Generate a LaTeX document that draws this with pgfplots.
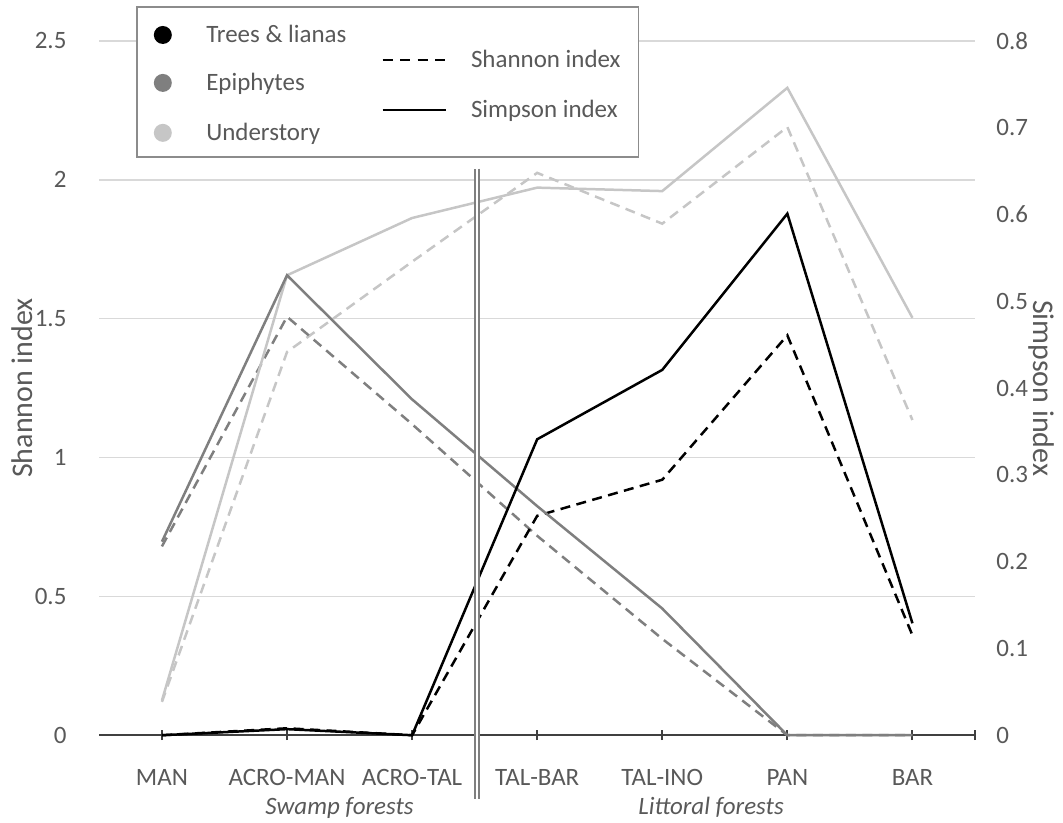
\documentclass[border=0pt]{standalone}
\usepackage{fontspec}
\setmainfont{Carlito}
\usepackage{pgfplots}
\pgfplotsset{compat=1.18}

\definecolor{txt}{HTML}{595959}
\definecolor{gridc}{HTML}{D9D9D9}
\definecolor{axc}{HTML}{404040}
\definecolor{trees}{HTML}{000000}
\definecolor{epi}{HTML}{7F7F7F}
\definecolor{under}{HTML}{C6C6C6}
\definecolor{framec}{HTML}{8C8C8C}

\pgfplotsset{
  twin/.style={
    scale only axis, width=350.6pt, height=278pt,
    xmin=-0.5, xmax=6.5, clip=false,
    /pgf/number format/assume math mode=true,
    tick label style={font=\fontsize{10}{12}\selectfont, text=txt},
    label style={font=\fontsize{12}{14}\selectfont, text=txt},
  },
  shannon/.style={line width=1pt, dash pattern=on 4pt off 2.6pt},
  simpson/.style={line width=1pt},
}

\begin{document}
\begin{tikzpicture}[font=\fontsize{10}{12}\selectfont]

% Shannon index (left axis, dashed)
\begin{axis}[twin,
  ymin=0, ymax=2.5, ytick={0,0.5,1,1.5,2,2.5},
  ymajorgrids, grid style={gridc, line width=0.6pt},
  axis x line*=bottom, axis y line*=left,
  x axis line style={axc, line width=0.8pt, -},
  y axis line style={draw=none},
  xtick={0,1,2,3,4,5,6},
  xticklabels={MAN,ACRO-MAN,ACRO-TAL,TAL-BAR,TAL-INO,PAN,BAR},
  extra x ticks={6.5}, extra x tick labels={},
  tick align=center, major tick length=4pt,
  xtick style={axc, line width=0.8pt},
  ytick style={draw=none},
  xticklabel style={anchor=base, inner sep=0pt, yshift=-18pt},
  yticklabel style={inner sep=0pt, xshift=-11pt},
  ylabel={Shannon index},
  ylabel style={at={(axis description cs:-0.0884,0.5)}, anchor=center},
]
\addplot[shannon, under] coordinates {(0,0.12) (1,1.38) (2,1.705) (3,2.025) (4,1.842) (5,2.19) (6,1.135)};
\addplot[shannon, epi]   coordinates {(0,0.68) (1,1.507) (2,1.12) (3,0.718) (4,0.347) (5,0) (6,0)};
\addplot[shannon, trees] coordinates {(0,0) (1,0.025) (2,0) (3,0.79) (4,0.92) (5,1.44) (6,0.36)};
\coordinate (axbl) at (rel axis cs:0,0);
\coordinate (axtr) at (rel axis cs:1,1);
\coordinate (axtl) at (rel axis cs:0,1);
\coordinate (sepTop) at (axis cs:2.516,2.04);
\coordinate (sepBot) at (axis cs:2.516,0);
\coordinate (grpA) at (axis cs:1.42,0);
\coordinate (grpB) at (axis cs:4.39,0);
\end{axis}

% Simpson index (right axis, solid)
\begin{axis}[twin,
  ymin=0, ymax=0.8, ytick={0,0.1,0.2,0.3,0.4,0.5,0.6,0.7,0.8},
  axis y line*=right, axis x line=none,
  y axis line style={draw=none}, ytick style={draw=none},
  yticklabel style={inner sep=0pt, xshift=8.4pt},
  ylabel={Simpson index},
  ylabel style={at={(axis description cs:1.0764,0.5)}, anchor=center, rotate=180},
]
\addplot[simpson, under] coordinates {(0,0.040) (1,0.530) (2,0.596) (3,0.631) (4,0.627) (5,0.746) (6,0.481)};
\addplot[simpson, epi]   coordinates {(0,0.223) (1,0.530) (2,0.387) (3,0.264) (4,0.146) (5,0) (6,0)};
\addplot[simpson, trees] coordinates {(0,0) (1,0.007) (2,0) (3,0.341) (4,0.421) (5,0.601) (6,0.129)};
\end{axis}

% separator between swamp and littoral forests
\draw[epi, line width=0.7pt, double=white, double distance=0.9pt]
  (sepTop) -- ([yshift=-25.6pt]sepBot);

% group labels
\node[anchor=base, inner sep=0pt, text=txt, font=\fontsize{10}{12}\selectfont\itshape]
  at ([yshift=-31.6pt]grpA) {Swamp forests};
\node[anchor=base, inner sep=0pt, text=txt, font=\fontsize{10}{12}\selectfont\itshape]
  at ([yshift=-31.6pt]grpB) {Littoral forests};

% legend
\coordinate (L) at ([xshift=15pt,yshift=13.6pt]axtl);
\draw[framec, line width=0.6pt, fill=white] (L) rectangle ++(200.8pt,-60pt);
\fill[trees] ([xshift=10.4pt,yshift=-11.2pt]L) circle (3.6pt);
\fill[epi]   ([xshift=10.4pt,yshift=-30.4pt]L) circle (3.6pt);
\fill[under] ([xshift=10.4pt,yshift=-50.4pt]L) circle (3.6pt);
\node[anchor=base west, inner sep=0pt, text=txt] at ([xshift=27.6pt,yshift=-14.4pt]L) {Trees \& lianas};
\node[anchor=base west, inner sep=0pt, text=txt] at ([xshift=27.6pt,yshift=-33.6pt]L) {Epiphytes};
\node[anchor=base west, inner sep=0pt, text=txt] at ([xshift=27.6pt,yshift=-53.6pt]L) {Understory};
\draw[black, line width=1pt, dash pattern=on 4pt off 3pt] ([xshift=98.4pt,yshift=-21.2pt]L) -- ++(25.2pt,0);
\draw[black, line width=1pt] ([xshift=98.4pt,yshift=-41.2pt]L) -- ++(25.2pt,0);
\node[anchor=base west, inner sep=0pt, text=txt] at ([xshift=133.6pt,yshift=-24.4pt]L) {Shannon index};
\node[anchor=base west, inner sep=0pt, text=txt] at ([xshift=133.6pt,yshift=-44.4pt]L) {Simpson index};

% overall frame of the figure
\path ([xshift=-39.8pt,yshift=-34.8pt]axbl) rectangle ([xshift=34.8pt,yshift=16.4pt]axtr);
\end{tikzpicture}
\end{document}
